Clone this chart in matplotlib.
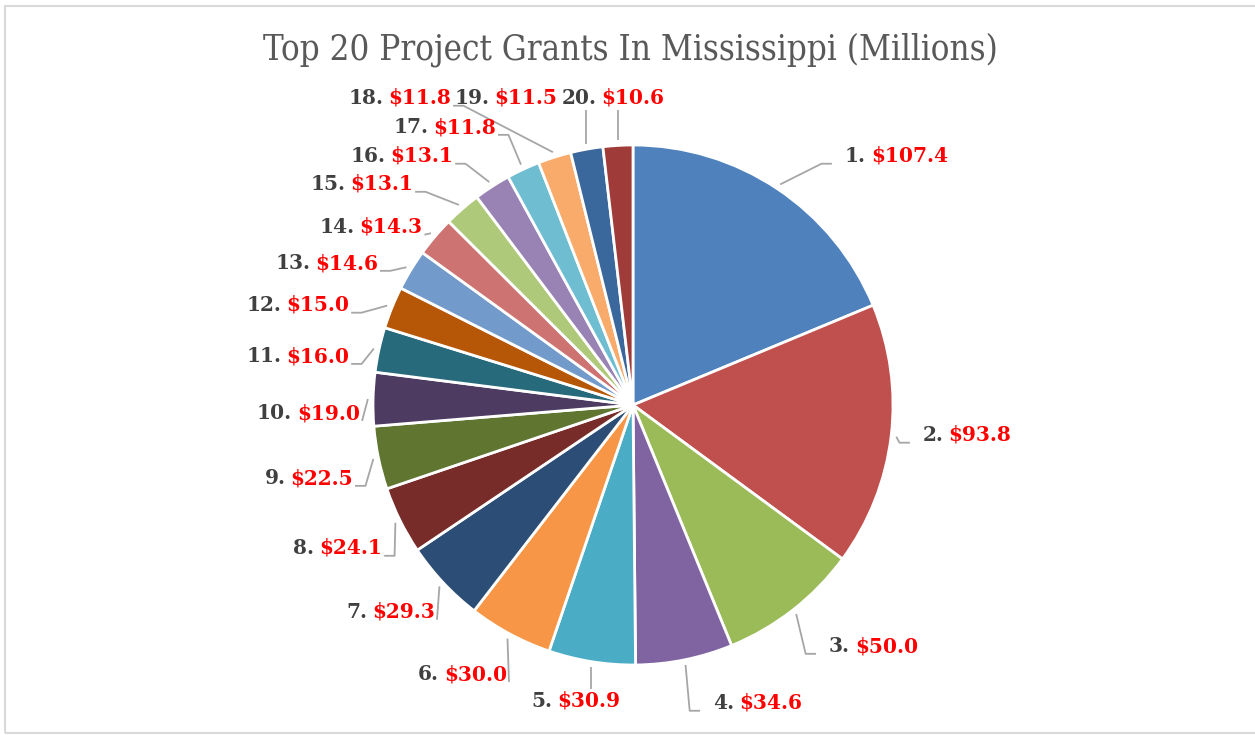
import matplotlib.pyplot as plt
import numpy as np
from matplotlib.offsetbox import TextArea, HPacker, AnnotationBbox
from matplotlib.patches import Rectangle

ranks = list(range(1, 21))
grants = [107.4, 93.8, 50.0, 34.6, 30.9, 30.0, 29.3, 24.1, 22.5, 19.0,
          16.0, 15.0, 14.6, 14.3, 13.1, 13.1, 11.8, 11.8, 11.5, 10.6]
colors = ['#4F81BD', '#C0504D', '#9BBB59', '#8064A2', '#4BACC6',
          '#F79646', '#2C4D75', '#772C2A', '#5F7530', '#4D3B62',
          '#276A7C', '#B65708', '#729ACA', '#CD7371', '#AFC97A',
          '#9983B5', '#6FBDD1', '#F9AB6B', '#3A679C', '#9F3B38']
title = 'Top 20 Project Grants In Mississippi (Millions)'

# label layout (pie radius = 1): x, y, text alignment, leader style
label_layout = [
    (0.815, 0.958, 'left', 'h'), (1.115, -0.115, 'left', 'h'),
    (0.754, -0.927, 'left', 'h'), (0.308, -1.146, 'left', 'h'),
    (-0.219, -1.138, 'center', 'v'), (-0.485, -1.035, 'right', 'h'),
    (-0.762, -0.796, 'right', 'h'), (-0.965, -0.550, 'right', 'h'),
    (-1.077, -0.281, 'right', 'h'), (-1.050, -0.031, 'right', 'h'),
    (-1.092, 0.188, 'right', 'h'), (-1.092, 0.385, 'right', 'h'),
    (-0.981, 0.546, 'right', 'h'), (-0.810, 0.685, 'right', 'h'),
    (-0.846, 0.850, 'right', 'h'), (-0.692, 0.958, 'right', 'h'),
    (-0.527, 1.069, 'right', 'h'), (-0.700, 1.181, 'right', 'h'),
    (-0.290, 1.181, 'right', 'v'), (-0.077, 1.181, 'center', 'v'),
]

fig = plt.figure(figsize=(12.55, 7.35), dpi=100)
ax = fig.add_axes([0, 0, 1, 1])
ax.pie(grants, colors=colors, startangle=90, counterclock=False, radius=1,
       wedgeprops=dict(edgecolor='white', linewidth=2))
ax.set_aspect('auto')
ax.set_xlim(-633 / 260, (1255 - 633) / 260)
ax.set_ylim(-(735 - 405) / 260, 405 / 260)
ax.axis('off')

total = sum(grants)
cum = np.cumsum([0] + grants[:-1])
mids = 360 * (cum + np.array(grants) / 2) / total

lead_kw = dict(color='#A6A6A6', lw=1.3, solid_capstyle='butt')
num_kw = dict(color='#404040', fontsize=14.5, fontweight='bold', family='DejaVu Serif')
val_kw = dict(color='#FF0000', fontsize=14.5, fontweight='bold', family='DejaVu Serif')

for i, (lx, ly, ha, mode) in enumerate(label_layout):
    a = np.deg2rad(mids[i])
    px, py = 1.02 * np.sin(a), 1.02 * np.cos(a)
    if mode == 'v':
        ey = ly + 0.045 if ly < py else ly - 0.045
        ax.plot([px, px], [py, ey], **lead_kw)
    else:
        side = 1 if ha == 'right' else -1
        tx = lx + 0.008 if ha == 'right' else lx - 0.05
        ty = ly - 0.03
        ex = tx + side * 0.04
        if (px - ex) * side > 0:
            ax.plot([px, ex, tx], [py, ty, ty], **lead_kw)
        else:
            ax.plot([px, tx], [py, ty], **lead_kw)

    box = HPacker(children=[TextArea(f'{ranks[i]}.', textprops=num_kw),
                            TextArea(f'${grants[i]:.1f}', textprops=val_kw)],
                  align='baseline', pad=0, sep=3.5)
    bx = {'left': 0, 'right': 1, 'center': 0.5}[ha]
    ab = AnnotationBbox(box, (lx, ly), box_alignment=(bx, 0.5), frameon=False, pad=0)
    ax.add_artist(ab)

fig.text(0.502, 1 - 50 / 735, title, ha='center', va='center', color='#595959',
         fontsize=25, family='DejaVu Serif', fontstretch='condensed')

fig.patches.append(Rectangle((5 / 1255, 2 / 735), 1.1, 727 / 735, transform=fig.transFigure,
                             fill=False, edgecolor='#D9D9D9', lw=1.5, figure=fig))

fig.savefig('out.png', dpi=100)
